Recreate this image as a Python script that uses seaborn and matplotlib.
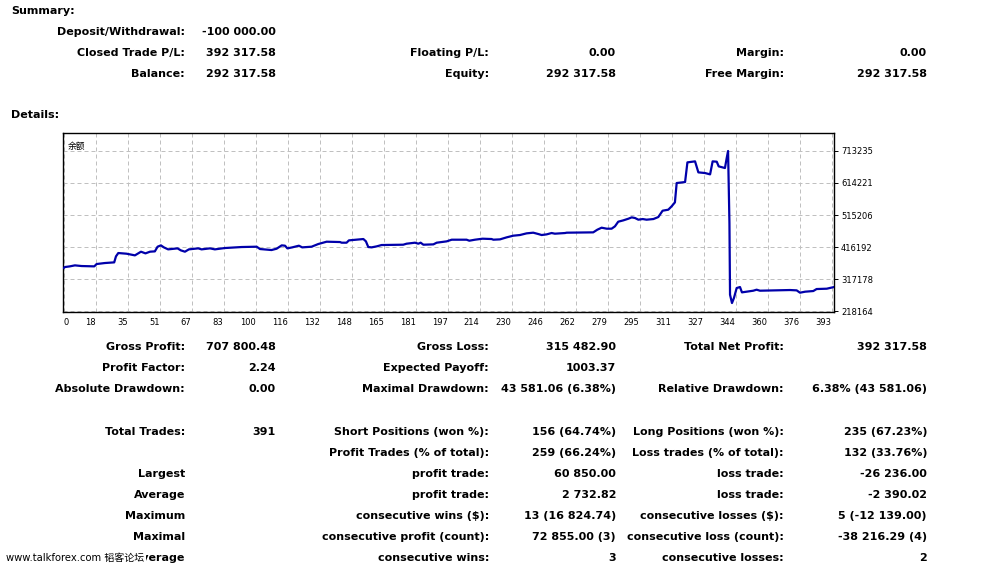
import matplotlib
matplotlib.use("Agg")
import matplotlib.pyplot as plt
import seaborn as sns
import numpy as np
import pandas as pd

# ---------------- data ----------------
trade = [0, 0.7, 3.2, 5.8, 9.2, 15.7, 16.9, 21.1, 25.9, 26.8, 28.0, 32.2, 36.5, 39.6, 41.9, 44.2,
         46.7, 48.1, 49.8, 51.3, 53.5, 58.3, 60.0, 62.1, 64.1, 68.9, 70.6, 74.9, 77.4, 82.5, 91.1,
         98.8, 100.5, 106.4, 109.0, 111.6, 113.3, 114.5, 117.0, 120.4, 122.1, 126.9, 130.3, 134.6,
         141.4, 142.3, 144.8, 146.0, 153.4, 154.7, 155.9, 157.6, 160.2, 162.7, 173.8, 175.5, 179.8,
         181.5, 182.7, 184.1, 189.2, 190.9, 196.0, 198.6, 206.2, 207.6, 210.5, 214.4, 219.0, 219.9,
         223.3, 226.7, 230.1, 233.5, 236.9, 240.3, 242.9, 244.6, 247.2, 249.7, 251.4, 256.6, 257.4,
         271.0, 273.1, 275.3, 277.9, 280.4, 282.1, 283.8, 286.4, 289.0, 290.7, 292.4, 294.1, 296.3,
         298.3, 301.8, 304.3, 306.5, 309.4, 311.1, 312.8, 313.7, 318.0, 319.2, 323.1, 324.8, 328.2,
         330.8, 332.1, 334.2, 335.2, 338.4, 339.3, 340.0, 340.7, 341.0, 342.0, 343.0, 344.4, 346.1,
         347.1, 352.9, 354.6, 356.3, 371.7, 375.1, 376.8, 379.4, 383.6, 385.3, 390.5, 394.2]
balance = [351110, 354204, 356267, 359361, 357298, 356267, 363486, 366581, 368644, 387209, 397523,
           395460, 390303, 401649, 396492, 401649, 402680, 417120, 421245, 415057, 408869, 411963,
           405775, 401649, 408869, 411963, 408869, 411963, 408869, 412994, 416088, 417120, 409900,
           406806, 410931, 421245, 420214, 411963, 415057, 420214, 415057, 417120, 425370, 432590,
           431559, 429496, 429496, 436715, 440841, 433621, 416088, 415057, 418151, 422277, 423308,
           426402, 429496, 426402, 429496, 423308, 424339, 429496, 433621, 438779, 438779, 435684,
           438779, 441873, 440841, 438779, 439810, 446029, 451184, 453247, 458404, 460467, 456341,
           453247, 455310, 459435, 457373, 459435, 460467, 461498, 469721, 475949, 472855, 472855,
           480035, 494475, 498600, 503757, 507883, 505820, 500663, 502726, 500663, 502726, 508914,
           528511, 531605, 541919, 554296, 614117, 617211, 678064, 681158, 647122, 645059, 640933,
           681158, 680127, 665687, 660530, 691472, 713235, 490349, 268598, 242813, 258284, 289226,
           292320, 275818, 280975, 284069, 280975, 283038, 282006, 274787, 277881, 279944, 286132,
           287163, 292318]

x_tick_labels = ["0", "18", "35", "51", "67", "83", "100", "116", "132", "148", "165", "181", "197",
                 "214", "230", "246", "262", "279", "295", "311", "327", "344", "360", "376", "393"]
y_tick_values = [218164, 317178, 416192, 515206, 614221, 713235]
y_tick_labels = ["218164", "317178", "416192", "515206", "614221", "713235"]

summary_rows = [
    ["Deposit/Withdrawal:", "-100 000.00", "", "", "", ""],
    ["Closed Trade P/L:", "392 317.58", "Floating P/L:", "0.00", "Margin:", "0.00"],
    ["Balance:", "292 317.58", "Equity:", "292 317.58", "Free Margin:", "292 317.58"],
]
stats_rows_a = [
    ["Gross Profit:", "707 800.48", "Gross Loss:", "315 482.90", "Total Net Profit:", "392 317.58"],
    ["Profit Factor:", "2.24", "Expected Payoff:", "1003.37", "", ""],
    ["Absolute Drawdown:", "0.00", "Maximal Drawdown:", "43 581.06 (6.38%)", "Relative Drawdown:", "6.38% (43 581.06)"],
]
stats_rows_b = [
    ["Total Trades:", "391", "Short Positions (won %):", "156 (64.74%)", "Long Positions (won %):", "235 (67.23%)"],
    ["", "", "Profit Trades (% of total):", "259 (66.24%)", "Loss trades (% of total):", "132 (33.76%)"],
    ["Largest", "", "profit trade:", "60 850.00", "loss trade:", "-26 236.00"],
    ["Average", "", "profit trade:", "2 732.82", "loss trade:", "-2 390.02"],
    ["Maximum", "", "consecutive wins ($):", "13 (16 824.74)", "consecutive losses ($):", "5 (-12 139.00)"],
    ["Maximal", "", "consecutive profit (count):", "72 855.00 (3)", "consecutive loss (count):", "-38 216.29 (4)"],
    ["Average", "", "consecutive wins:", "3", "consecutive losses:", "2"],
]

# ---------------- figure ----------------
W, H = 981, 568
sns.set_style("white")
plt.rcParams['font.family'] = ['DejaVu Sans', 'Noto Sans CJK SC']
fig = plt.figure(figsize=(W / 100, H / 100), dpi=100)
fig.patch.set_facecolor("white")

def px(x, y):
    return x / W, 1 - y / H

col_right = [185, 276, 489, 616, 784, 927]
FS = 8.0

def put(x, y, s, ha="right", **kw):
    if not s:
        return None
    xx, yy = px(x, y)
    d = dict(ha=ha, va="baseline", fontsize=FS, fontweight="bold", color="black")
    d.update(kw)
    return fig.text(xx, yy, s, **d)

put(11, 14, "Summary:", ha="left")
for i, row in enumerate(summary_rows):
    y = 35 + 21 * i
    for c, s in enumerate(row):
        put(col_right[c], y, s)
put(11, 118, "Details:", ha="left")

for i, row in enumerate(stats_rows_a):
    y = 350 + 21 * i
    for c, s in enumerate(row):
        put(col_right[c], y, s)
for i, row in enumerate(stats_rows_b):
    y = 435 + 21 * i
    for c, s in enumerate(row):
        put(col_right[c], y, s)

# watermark covering part of last "Average" (as in the reference)
wx, wy = px(6, 561)
fig.text(wx, wy, "www.talkforex.com 韬客论坛", ha="left", va="baseline", fontsize=7.2,
         color="black", family=['DejaVu Sans', 'Noto Sans CJK SC'],
         bbox=dict(facecolor="white", edgecolor="none", pad=1.5), zorder=5)

# ---------------- chart ----------------
L, R, T, B = 63, 834, 133, 312
ax = fig.add_axes([L / W, 1 - B / H, (R - L) / W, (B - T) / H])
df = pd.DataFrame({"trade": trade, "balance": balance})
sns.lineplot(data=df, x="trade", y="balance", ax=ax, color="#0000AA", linewidth=1.6,
             estimator=None, sort=False, zorder=3)

xt = np.linspace(0, 393, len(x_tick_labels))
ax.set_xlim(-0.3, 394.2)
ax.set_ylim(215070, 768930)
ax.set_xticks(xt)
ax.set_xticklabels(x_tick_labels)
for i, lab in enumerate(ax.get_xticklabels()):
    lab.set_ha("left" if i == 0 else "right")
ax.yaxis.tick_right()
ax.set_yticks(y_tick_values)
ax.set_yticklabels(y_tick_labels)
ax.tick_params(axis="both", labelsize=6, length=3, width=0.7, color="black", pad=2,
               direction="out", labelcolor="black")
ax.tick_params(axis="x", pad=1.5, color="#B0B0B0", length=3)
ax.grid(True, color="#C0C0C0", linestyle=(0, (4, 3)), linewidth=0.72)
for s in ax.spines.values():
    s.set_color("black")
    s.set_linewidth(1.0)
ax.set_xlabel("")
ax.set_ylabel("")
ax.text(0.006, 0.95, "余额", transform=ax.transAxes, ha="left", va="top", fontsize=6.3,
        family=['Noto Sans CJK SC', 'DejaVu Sans'], color="black")

fig.savefig("out.png", dpi=100, facecolor="white")
